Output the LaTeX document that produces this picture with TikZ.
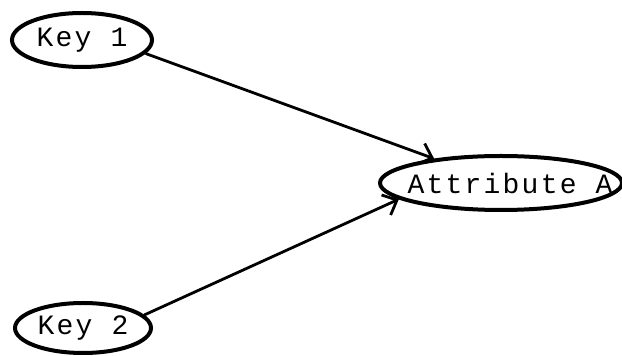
\documentclass[tikz,border=0pt]{standalone}
\usepackage{fontspec}
\setmonofont{Liberation Mono}
\newfontfamily\dotfont[LetterSpace=8]{Liberation Mono}
\usetikzlibrary{shapes.geometric,arrows.meta}
\tikzset{
  oval/.style={ellipse, draw, line width=4pt, inner sep=0pt, font=\dotfont\fontsize{28}{28}\selectfont},
  conn/.style={line width=2.8pt, -{Straight Barb[length=12pt,width=22pt,line width=2.8pt]}}
}
\begin{document}
\begin{tikzpicture}[x=1pt,y=1pt]
\useasboundingbox (0,0) rectangle (622,356);
\node[oval, minimum width=140pt, minimum height=54pt] (k1) at (82,316) {Key 1};
\node[oval, minimum width=136pt, minimum height=50pt] (k2) at (83,28) {Key 2};
\node[oval, inner xsep=-31pt, minimum width=242pt, minimum height=54pt] (attr) at (501,173) {\hspace*{18pt}Attribute A};
\draw[conn] (k1.-12) -- (attr.160);
\draw[conn] (k2.12) -- (attr.189);
\end{tikzpicture}
\end{document}
